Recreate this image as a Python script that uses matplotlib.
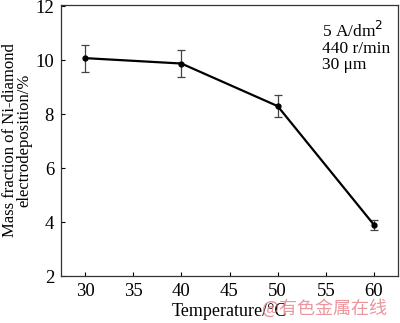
import matplotlib
matplotlib.use("Agg")
import matplotlib.pyplot as plt

temps = [30, 40, 50, 60]
mass_frac = [10.08, 9.88, 8.3, 3.9]
err = [0.5, 0.5, 0.42, 0.18]
xticks = [30, 35, 40, 45, 50, 55, 60]
yticks = [2, 4, 6, 8, 10, 12]

plt.rcParams['font.family'] = ['Liberation Serif', 'DejaVu Serif']

fig = plt.figure(figsize=(4, 3.23), dpi=100)
ax = fig.add_axes([0.1525, 0.1455, 0.8425, 0.839])

ax.errorbar(temps, mass_frac, yerr=err, color='black', lw=1.6,
            marker='o', ms=3.5, capsize=3, elinewidth=0.9, ecolor='#444444', capthick=0.9)

ax.set_xlim(27.5, 62.5)
ax.set_ylim(2, 12.05)
ax.set_xticks(xticks)
ax.set_yticks(yticks)
ax.tick_params(direction='in', length=3, width=0.8, labelsize=13.5, pad=5)
for s in ax.spines.values():
    s.set_linewidth(0.9)
    s.set_color('#333333')

ax.set_xlabel("Temperature/°C", fontsize=13, labelpad=2)
ax.set_ylabel("Mass fraction of Ni-diamond\nelectrodeposition/%", fontsize=12,
              linespacing=0.85, labelpad=2)

ax.text(0.775, 0.94, "5 A/dm$^2$\n440 r/min\n30 μm", transform=ax.transAxes,
        fontsize=12.5, va='top', ha='left', linespacing=1.0)

fig.text(0.655, 0.045, "@有色金属在线", fontsize=13, color='#e8838c', alpha=0.85,
         family=['Noto Sans CJK SC', 'DejaVu Sans'], va='center')

fig.savefig("out.png", dpi=100)
